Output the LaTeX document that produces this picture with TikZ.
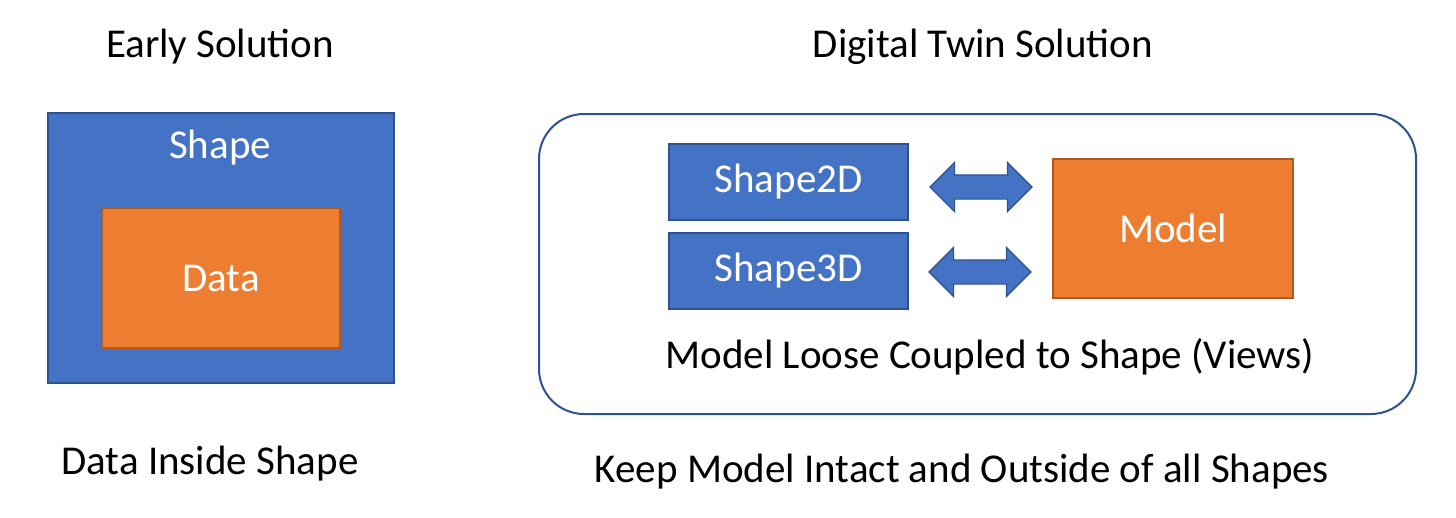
\documentclass[tikz,border=0pt]{standalone}
\usepackage{fontspec}
\setmainfont{Carlito}
\usepackage{xcolor}
\usetikzlibrary{shapes.arrows, positioning}
\definecolor{shapeblue}{RGB}{68, 114, 196}
\definecolor{shapeedge}{RGB}{47, 82, 143}
\definecolor{dataorange}{RGB}{237, 125, 49}
\definecolor{dataedge}{RGB}{174, 90, 33}

\tikzset{
  bluebox/.style={draw=shapeedge, fill=shapeblue, line width=1.5pt, inner sep=0pt},
  orangebox/.style={draw=dataedge, fill=dataorange, line width=1.5pt, inner sep=0pt},
  boxtext/.style={text=white, font=\fontsize{41}{48}\selectfont},
  caption/.style={text=black, font=\fontsize{41}{48}\selectfont},
  twinarrow/.style={double arrow, draw=shapeedge, fill=shapeblue, line width=1.2pt,
    double arrow head extend=12.5pt, inner xsep=0pt, inner ysep=11.5pt, minimum height=102pt}
}

\begin{document}
\begin{tikzpicture}[x=1pt, y=-1pt]
  \useasboundingbox (0,0) rectangle (1456,517);

  \node[caption] (early) at (220,47) {Early Solution};
  \node[bluebox, minimum width=346, minimum height=270] (shape) at (221,248) {};
  \node[boxtext] (shapelbl) at (220,148) {Shape};
  \node[orangebox, minimum width=238, minimum height=140] (data) at (221,278) {};
  \node[boxtext] (datalbl) at (data) {Data};
  \node[caption] (inside) at (210,464) {Data Inside Shape};

  \node[caption] (twin) at (983,47) {Digital Twin Solution};
  \draw[shapeedge, line width=2pt, rounded corners=45pt] (539,114) rectangle (1416,414);
  \node[bluebox, boxtext, minimum width=239, minimum height=76] (s2d) at (788.5,182) {Shape2D};
  \node[bluebox, boxtext, minimum width=239, minimum height=76] (s3d) at (788.5,271) {Shape3D};
  \node[orangebox, boxtext, minimum width=240, minimum height=139] (model) at (1173,228.5) {Model};
  \node[twinarrow] (arr2d) at (981,187) {};
  \node[twinarrow] (arr3d) at (980,272) {};
  \node[caption] (loose) at (990,357) {Model Loose Coupled to Shape (Views)};
  \node[caption] (keep) at (962,472) {Keep Model Intact and Outside of all Shapes};
\end{tikzpicture}
\end{document}
